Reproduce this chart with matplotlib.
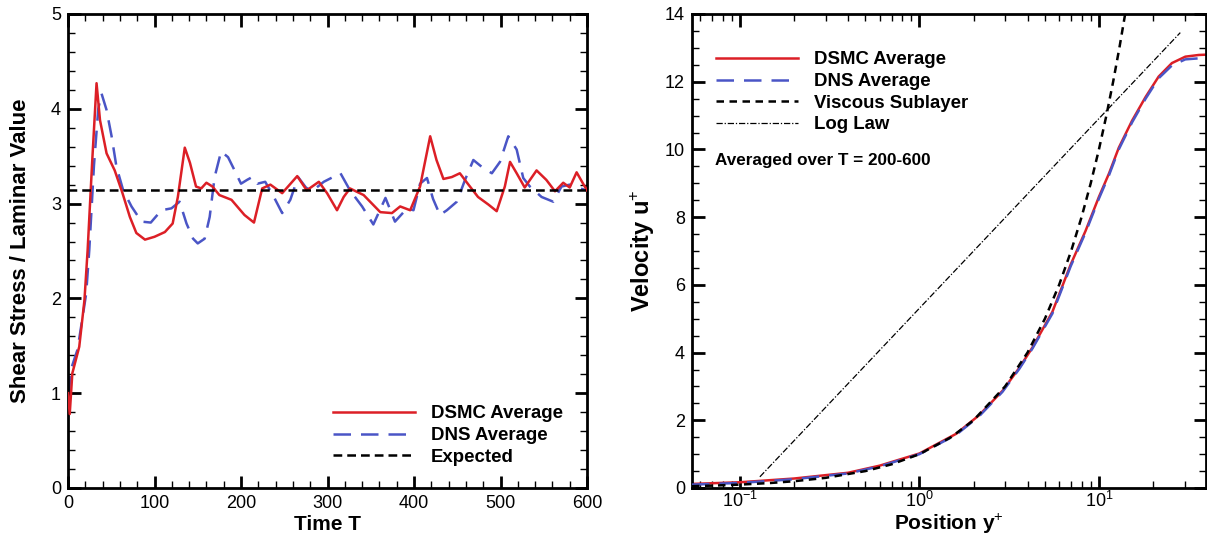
import matplotlib
matplotlib.use("Agg")
import matplotlib.pyplot as plt
from matplotlib.ticker import MultipleLocator, LogLocator, NullFormatter, FixedLocator

plt.rcParams['font.family'] = ['Liberation Sans', 'DejaVu Sans']
plt.rcParams['mathtext.fontset'] = 'custom'
plt.rcParams['mathtext.rm'] = 'Liberation Sans'
plt.rcParams['mathtext.bf'] = 'Liberation Sans:bold'

# ---------------- Left panel data ----------------
dsmc_T = [0, 2, 5, 13, 19, 22.7, 28, 33, 37, 44.6, 54, 63, 71.5, 79, 89, 100, 112, 121, 127,
          135, 141, 148, 154, 160, 167, 175, 189, 204, 215, 224.5, 234, 247.6, 265, 276, 290,
          299.5, 311, 318.7, 326, 341.8, 361, 374.5, 384, 395.6, 407, 418.7, 426, 434, 443.7,
          453, 463, 474, 486, 495.6, 505, 511, 518.7, 528, 541.7, 553, 563, 572.5, 580, 588,
          595.5, 600]
dsmc_v = [1.0, 0.78, 1.21, 1.49, 1.98, 2.51, 3.45, 4.27, 3.88, 3.53, 3.35, 3.11, 2.86, 2.69,
          2.62, 2.65, 2.70, 2.79, 3.07, 3.59, 3.43, 3.18, 3.16, 3.22, 3.18, 3.09, 3.04, 2.88,
          2.80, 3.16, 3.20, 3.11, 3.29, 3.14, 3.23, 3.11, 2.93, 3.07, 3.16, 3.09, 2.91, 2.90,
          2.97, 2.93, 3.18, 3.71, 3.46, 3.26, 3.28, 3.32, 3.20, 3.07, 2.99, 2.92, 3.18, 3.44,
          3.32, 3.17, 3.35, 3.25, 3.13, 3.22, 3.17, 3.33, 3.21, 3.14]

dns_T = [0, 1.5, 3, 11, 17, 21, 24.6, 30, 35, 38.8, 44.5, 50.4, 56, 63.8, 73.4, 85, 95.7, 108,
         119.6, 129, 137, 144.6, 150, 158, 163.8, 169.5, 177, 185, 192.6, 200, 207, 213, 219,
         228, 238, 247.6, 257, 266, 275, 282, 295.7, 315, 326, 340, 353, 367, 378, 392, 399.4,
         407, 415, 422, 430, 438, 449.5, 459, 468.6, 478, 490, 499.4, 509, 518.7, 526.3, 534,
         547.5, 561, 570.5, 580, 591.7, 600]
dns_v = [1.0, 1.03, 1.24, 1.46, 1.81, 2.05, 2.51, 3.4, 4.0, 4.16, 3.99, 3.71, 3.39, 3.14, 2.97,
         2.81, 2.80, 2.93, 2.95, 3.02, 2.79, 2.63, 2.58, 2.63, 2.86, 3.28, 3.55, 3.49, 3.35,
         3.21, 3.25, 3.28, 3.21, 3.23, 3.07, 2.90, 3.04, 3.28, 3.17, 3.13, 3.23, 3.32, 3.14,
         2.97, 2.78, 3.06, 2.81, 2.95, 2.93, 3.21, 3.27, 3.05, 2.88, 2.93, 3.02, 3.25, 3.46,
         3.39, 3.32, 3.44, 3.71, 3.57, 3.27, 3.18, 3.07, 3.02, 3.18, 3.20, 3.16, 3.14]

expected_value = 3.14

# ---------------- Right panel data ----------------
prof_y = [0.054, 0.1, 0.2, 0.4, 0.6, 1.0, 1.6, 2.15, 2.9, 3.6, 4.26, 5.5, 6.96, 8.43, 10.0,
          11.4, 12.9, 15.3, 18.2, 21.5, 25.5, 30.3, 36.0, 40.0]
dsmc_u = [0.12, 0.17, 0.28, 0.45, 0.66, 1.02, 1.60, 2.15, 2.87, 3.55, 4.15, 5.20, 6.60, 7.60,
          8.60, 9.30, 10.05, 10.85, 11.55, 12.15, 12.55, 12.74, 12.79, 12.80]
dns_y = [0.054, 0.1, 0.2, 0.4, 0.6, 1.0, 1.6, 2.15, 2.9, 3.6, 4.26, 5.5, 6.96, 8.43, 10.0,
         11.4, 12.9, 15.3, 18.2, 21.5, 25.5, 30.3, 36.0]
dns_u = [0.10, 0.15, 0.26, 0.43, 0.64, 1.00, 1.57, 2.12, 2.84, 3.52, 4.12, 5.15, 6.55, 7.55,
         8.55, 9.25, 10.00, 10.80, 11.50, 12.10, 12.48, 12.66, 12.69]
visc_y = [0.054, 0.07, 0.1, 0.15, 0.2, 0.3, 0.5, 0.7, 1.0, 1.5, 2.0, 3.0, 4.0, 5.0, 6.0, 7.0,
          8.0, 9.0, 10.0, 11.0, 12.0, 13.0, 14.0]
visc_u = list(visc_y)  # viscous sublayer: u+ = y+
log_y = [0.129, 28.4]
log_u = [0.33, 13.45]

RED = '#dc1f26'
BLUE = '#4a55c6'

W, H = 1207, 536
fig = plt.figure(figsize=(W / 100, H / 100), dpi=100)

ax1 = fig.add_axes([68 / W, 48 / H, 519 / W, 474 / H])
ax2 = fig.add_axes([692 / W, 48 / H, 514 / W, 474 / H])

tick_fs = 13
label_fs = 15
leg_fs = 13.4

for ax in (ax1, ax2):
    for s in ax.spines.values():
        s.set_linewidth(2.0)
    ax.tick_params(which='both', direction='in', top=True, right=True,
                   labelsize=tick_fs, pad=5)
    ax.tick_params(which='major', length=9, width=2)
    ax.tick_params(which='minor', length=5, width=1)

leg_kw = dict(frameon=False, prop={'weight': 'bold', 'size': leg_fs}, handlelength=4.4,
              handletextpad=0.85, labelspacing=0.25, borderaxespad=0)

# ---- Left panel ----
ax1.plot(dsmc_T, dsmc_v, color=RED, lw=1.8, label='DSMC Average', zorder=3)
ax1.plot(dns_T, dns_v, color=BLUE, lw=1.8, dashes=(7, 4), label='DNS Average', zorder=2)
ax1.axhline(expected_value, color='black', lw=1.8, dashes=(3.5, 2), label='Expected', zorder=4)
ax1.set_xlim(0, 600)
ax1.set_ylim(0, 5)
ax1.xaxis.set_major_locator(MultipleLocator(100))
ax1.xaxis.set_minor_locator(MultipleLocator(20))
ax1.yaxis.set_major_locator(MultipleLocator(1))
ax1.yaxis.set_minor_locator(MultipleLocator(0.2))
ax1.set_xlabel('Time T', fontsize=label_fs, fontweight='bold', labelpad=2)
ax1.set_ylabel('Shear Stress / Laminar Value', fontsize=16, fontweight='bold', labelpad=14)
ax1.legend(loc='upper left', bbox_to_anchor=(0.496, 0.19), **leg_kw)

# ---- Right panel ----
ax2.plot(prof_y, dsmc_u, color=RED, lw=1.8, label='DSMC Average', zorder=2)
ax2.plot(dns_y, dns_u, color=BLUE, lw=1.8, dashes=(7, 4), label='DNS Average', zorder=3)
ax2.plot(visc_y, visc_u, color='black', lw=1.8, dashes=(3, 2.2), label='Viscous Sublayer', zorder=4)
ax2.plot(log_y, log_u, color='black', lw=0.9, dashes=(5, 1.5, 1, 1.5), label='Log Law', zorder=4)
ax2.set_xscale('log')
ax2.set_xlim(0.054, 39.5)
ax2.set_ylim(0, 14)
ax2.xaxis.set_major_locator(FixedLocator([0.1, 1, 10]))
ax2.xaxis.set_minor_locator(LogLocator(base=10, subs=range(2, 10), numticks=20))
ax2.xaxis.set_minor_formatter(NullFormatter())
ax2.set_xticklabels(['10$^{-1}$', '10$^{0}$', '10$^{1}$'])
ax2.tick_params(axis='x', which='major', pad=2)
ax2.yaxis.set_major_locator(MultipleLocator(2))
ax2.yaxis.set_minor_locator(MultipleLocator(0.5))
ax2.set_xlabel('Position y$^{+}$', fontsize=label_fs, fontweight='bold')
ax2.xaxis.set_label_coords(0.5, -0.048)
ax2.set_ylabel('Velocity u$^{+}$', fontsize=17, fontweight='bold', labelpad=6)
ax2.legend(loc='upper left', bbox_to_anchor=(0.032, 0.937), **leg_kw)
ax2.text(0.045, 0.69, 'Averaged over T = 200-600', transform=ax2.transAxes,
         fontsize=12.3, fontweight='bold', ha='left', va='center')

fig.savefig('out.png', dpi=100)
